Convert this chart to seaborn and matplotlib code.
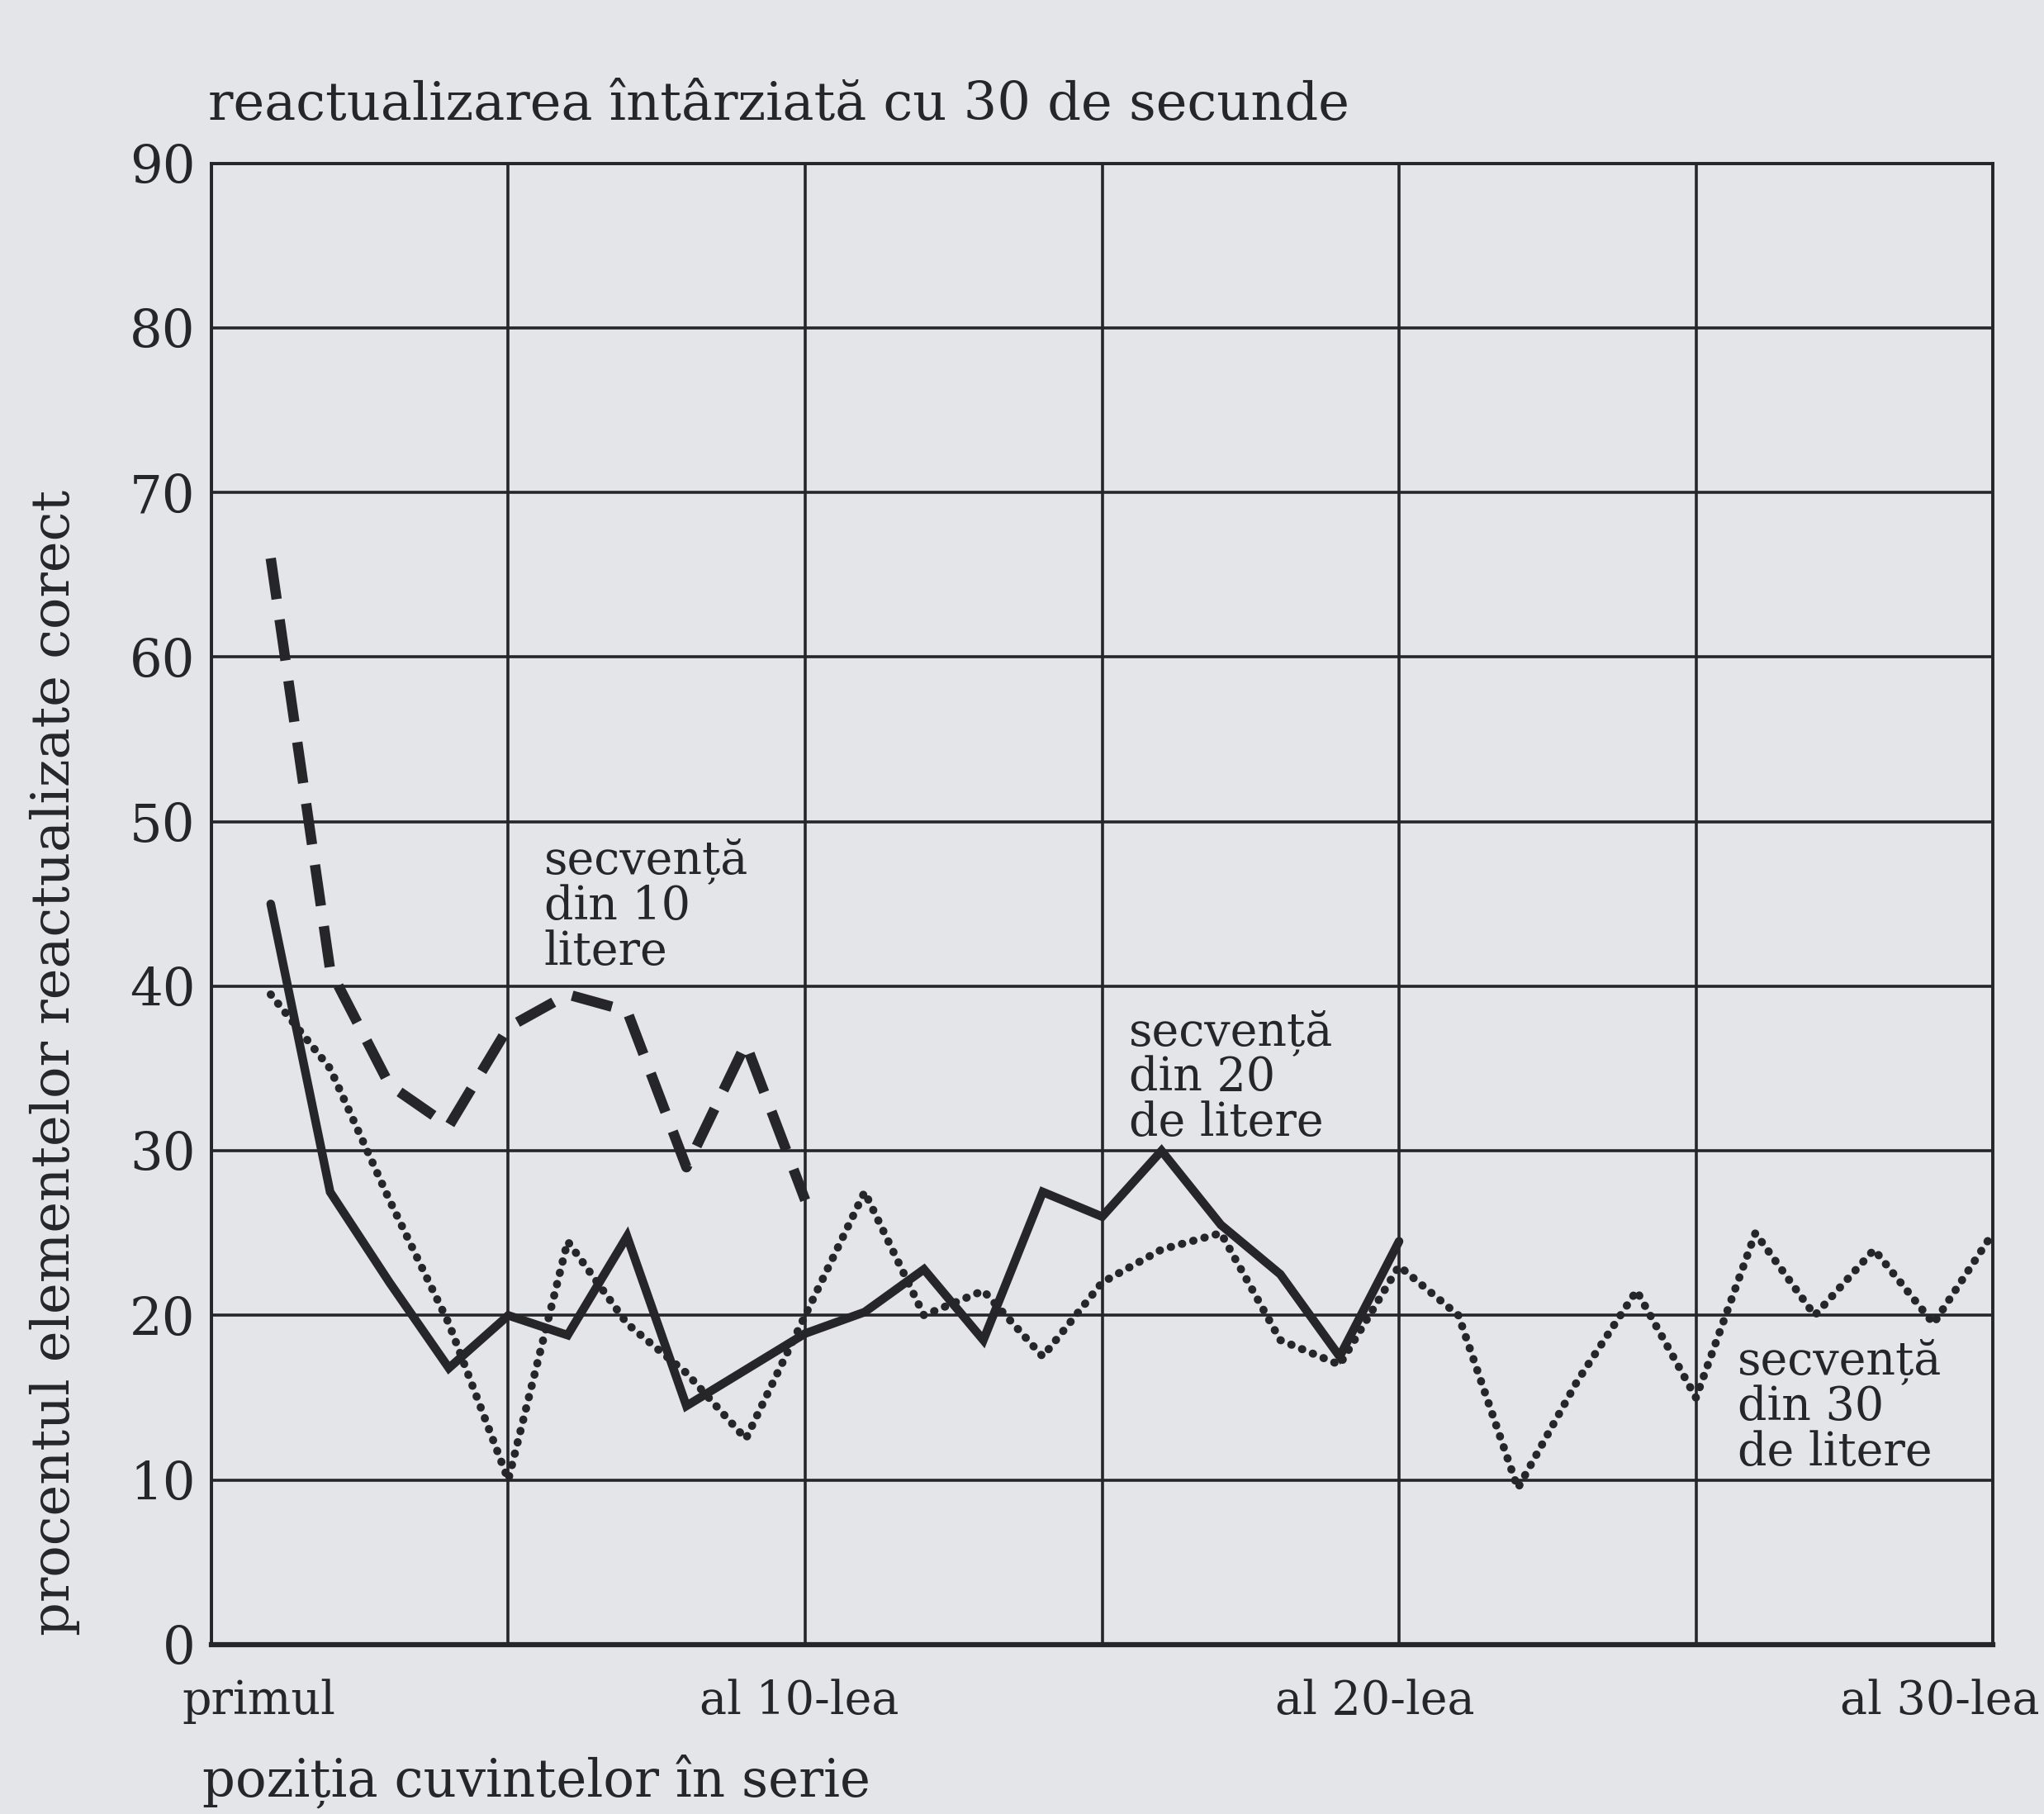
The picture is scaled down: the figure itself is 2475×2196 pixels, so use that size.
"""
Reactualizarea întârziată cu 30 de secunde - efectul de poziție serială
Refacere a graficului scanat cu seaborn.
"""

import matplotlib
matplotlib.use("Agg")
import matplotlib.pyplot as plt
import pandas as pd
import seaborn as sns

# Valori (procent reactualizat corect, pe poziții)
pozitii_10 = list(range(1, 11))
secv_10 = [66, 41, 34, 31.5, 37.5, 39.5, 38.5, 29, 36.5, 27]

pozitii_20 = list(range(1, 21))
secv_20 = [45, 27.5, 22, 16.8, 20, 18.8, 24.8, 14.5, 16.7, 18.9,
           20.2, 22.8, 18.5, 27.5, 26, 30, 25.5, 22.5, 17.5, 24.5]

pozitii_30 = list(range(1, 31))
secv_30 = [39.5, 35, 27, 19.5, 10, 24.5, 19.5, 16.5, 12.5, 20,
           27.5, 20, 21.5, 17.5, 22, 24, 25, 18.5, 17, 23,
           20, 9.5, 16, 21.5, 15, 25, 20, 24, 19.5, 25]

y_ticks = [0, 10, 20, 30, 40, 50, 60, 70, 80, 90]
x_grid = [0, 5, 10, 15, 20, 25, 30]
x_label_pos = [0.8, 9.9, 19.6, 29.1]
x_labels = ["primul", "al 10-lea", "al 20-lea", "al 30-lea"]

titlu = "reactualizarea întârziată cu 30 de secunde"
eticheta_x = "poziția cuvintelor în serie"
eticheta_y = "procentul elementelor reactualizate corect"
note = ["secvență\ndin 10\nlitere", "secvență\ndin 20\nde litere",
        "secvență\ndin 30\nde litere"]

# Culori hârtie / cerneală
HARTIE = "#e4e5e9"
CERNEALA = "#262629"

sns.set_theme(style="white")
plt.rcParams["font.family"] = ["DejaVu Serif", "DejaVu Sans"]

fig = plt.figure(figsize=(24.75, 21.96), dpi=100, facecolor=HARTIE)
ax = fig.add_axes([0.1034, 0.0934, 0.8716, 0.8166])
ax.set_facecolor(HARTIE)

df10 = pd.DataFrame({"poz": pozitii_10, "val": secv_10})
df20 = pd.DataFrame({"poz": pozitii_20, "val": secv_20})
df30 = pd.DataFrame({"poz": pozitii_30, "val": secv_30})

# secvența din 10 - linie întreruptă groasă
sns.lineplot(data=df10, x="poz", y="val", ax=ax, color=CERNEALA, lw=9,
             zorder=4)
ax.lines[-1].set_dashes([4.0, 2.0])
ax.lines[-1].set_dash_capstyle("butt")

# secvența din 20 - linie continuă
sns.lineplot(data=df20, x="poz", y="val", ax=ax, color=CERNEALA, lw=7.5,
             zorder=5)
ax.lines[-1].set_solid_joinstyle("miter")

# secvența din 30 - linie punctată
sns.lineplot(data=df30, x="poz", y="val", ax=ax, color=CERNEALA, lw=7,
             zorder=3)
ax.lines[-1].set_dashes([0.05, 1.4])
ax.lines[-1].set_dash_capstyle("round")

ax.set_xlim(0, 30)
ax.set_ylim(0, 90)

# grila
ax.set_xticks(x_grid)
ax.set_xticklabels([])
ax.set_yticks(y_ticks)
ax.set_yticklabels([str(v) for v in y_ticks], fontsize=45, color=CERNEALA)
ax.set_xticks(x_label_pos, minor=True)
ax.set_xticklabels(x_labels, minor=True, fontsize=40, color=CERNEALA)
ax.tick_params(axis="x", which="both", length=0, pad=30)
ax.tick_params(axis="y", length=0, pad=14)
ax.grid(True, which="major", color=CERNEALA, lw=2.6)
ax.set_xlabel("")
ax.set_ylabel("")

for side, sp in ax.spines.items():
    sp.set_visible(True)
    sp.set_color(CERNEALA)
    sp.set_linewidth(2.8)
ax.spines["bottom"].set_linewidth(4.5)

# adnotări pentru serii
ax.text(5.6, 49.0, note[0], fontsize=40, va="top", ha="left",
        linespacing=1.0, color=CERNEALA, zorder=6)
ax.text(15.45, 38.6, note[1], fontsize=40, va="top", ha="left",
        linespacing=1.0, color=CERNEALA, zorder=6)
ax.text(25.7, 18.6, note[2], fontsize=40, va="top", ha="left",
        linespacing=1.0, color=CERNEALA, zorder=6)

fig.text(0.102, 0.934, titlu, fontsize=46, ha="left", va="baseline",
         color=CERNEALA)
fig.text(0.099, 0.010, eticheta_x, fontsize=45, ha="left", va="baseline",
         color=CERNEALA)
fig.text(0.027, 0.414, eticheta_y, fontsize=46, ha="center", va="center",
         rotation=90, color=CERNEALA)

fig.savefig("out.png", dpi=100, facecolor=HARTIE)
